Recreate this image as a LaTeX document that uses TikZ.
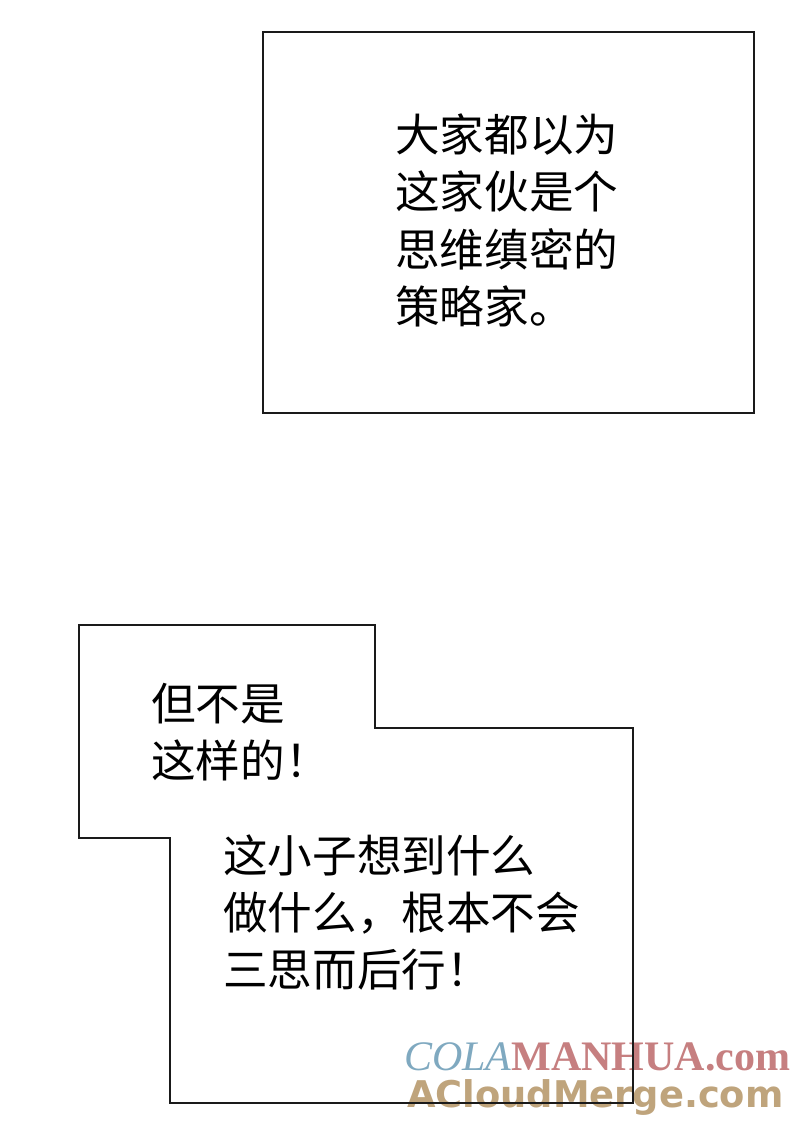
\documentclass[tikz,border=0pt]{standalone}
\usepackage{fontspec}
\newfontfamily\cjk{Noto Sans CJK SC}
\newfontfamily\wmserif{Liberation Serif}
\newfontfamily\wmsans{DejaVu Sans}
\definecolor{boxline}{HTML}{1A1A1A}
\definecolor{wmblue}{HTML}{7FA9C0}
\definecolor{wmred}{HTML}{C67F80}
\definecolor{wmtan}{HTML}{BFA47C}
\tikzset{
  panel/.style={draw=boxline, line width=2pt, line join=miter},
  say/.style={anchor=base west, inner sep=0pt, text=black,
    font=\cjk\fontsize{44.6}{57}\selectfont},
  wm/.style={anchor=base west, inner sep=0pt}
}
\begin{document}
\begin{tikzpicture}[x=1pt,y=-1pt]
\useasboundingbox (0,0) rectangle (800,1123);
\fill[white] (0,0) rectangle (800,1123);

% watermark (under the panel lines)
\node[wm, font=\wmserif\fontsize{42}{42}\selectfont] (wma) at (404,1070)
  {{\color{wmblue}\itshape COLA}{\color{wmred}\bfseries MANHUA.com}};
\node[wm, font=\wmsans\bfseries\fontsize{36.8}{37}\selectfont, text=wmtan] (wmb) at (407,1107)
  {ACloudMerge.com};

% top caption box
\draw[panel] (263,32) rectangle (754,413);
\node[say] (a1) at (395,152) {大家都以为};
\node[say] (a2) at (395,209) {这家伙是个};
\node[say] (a3) at (395,266) {思维缜密的};
\node[say] (a4) at (395,323) {策略家。};

% lower stepped caption box
\draw[panel] (79,625) -- (375,625) -- (375,728) -- (633,728) -- (633,1103)
  -- (170,1103) -- (170,838) -- (79,838) -- cycle;
\node[say] (b1) at (151,720) {但不是};
\node[say] (b2) at (151,777) {这样的！};
\node[say] (c1) at (223,872) {这小子想到什么};
\node[say] (c2) at (223,929) {做什么，根本不会};
\node[say] (c3) at (223,986) {三思而后行！};
\end{tikzpicture}
\end{document}
